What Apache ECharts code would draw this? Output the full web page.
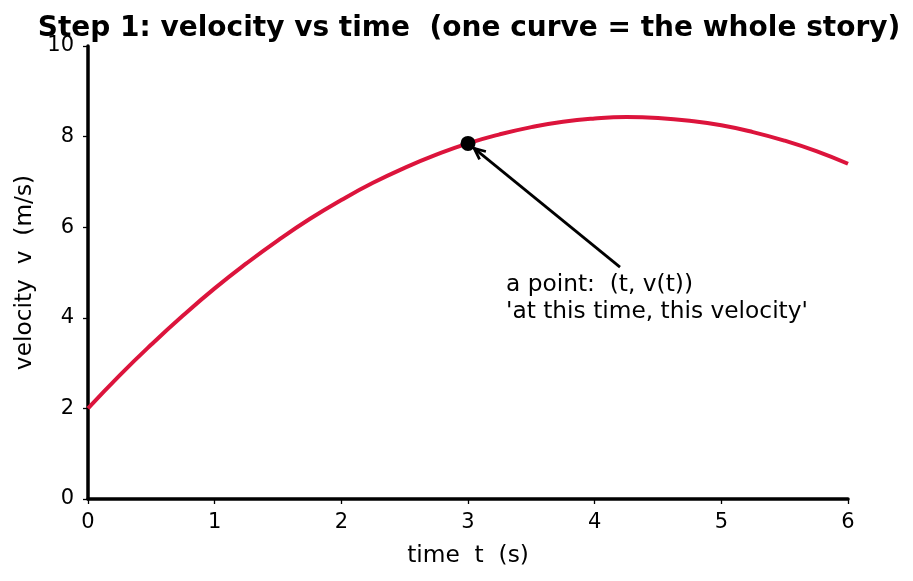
<!DOCTYPE html>
<html>
<head>
<meta charset="utf-8">
<script src="https://cdn.jsdelivr.net/npm/echarts@6/dist/echarts.min.js"></script>
<style>
  html, body { margin: 0; padding: 0; background: #fff; }
  #chart { width: 913px; height: 581px; }
</style>
</head>
<body>
<div id="chart"></div>
<script>
    'use strict';

    // time samples (s) and velocity (m/s)
    var times = [0, 0.25, 0.5, 0.75, 1, 1.25, 1.5, 1.75, 2, 2.25, 2.5, 2.75, 3,
        3.25, 3.5, 3.75, 4, 4.25, 4.5, 4.75, 5, 5.25, 5.5, 5.75, 6];
    var velocities = [2, 2.73, 3.41, 4.05, 4.65, 5.2, 5.71, 6.18, 6.6, 6.98, 7.31, 7.6, 7.85,
        8.05, 8.21, 8.33, 8.4, 8.43, 8.41, 8.35, 8.25, 8.1, 7.91, 7.68, 7.4];

    var markedPoint = [3, 7.85];
    var arrowTail = [4.2, 5.12];
    var notePos = [3.3, 3.84];
    var noteLines = ['a point:  (t, v(t))', '\'at this time, this velocity\''];

    var font = 'DejaVu Sans';

    var chart = echarts.init(document.getElementById('chart'));

    var axisCommon = {
        axisLine: { show: true, onZero: false, lineStyle: { color: '#000', width: 3.5 } },
        axisTick: { show: true, inside: false, length: 5, lineStyle: { color: '#000', width: 1.3 } },
        axisLabel: { color: '#000', fontFamily: font, fontSize: 21, margin: 14 },
        splitLine: { show: false },
        nameTextStyle: { color: '#000', fontFamily: font, fontSize: 23.3 }
    };

    // arrow from the note to the point, open head like "->"
    function renderArrow(params, api) {
        var tail = api.coord(arrowTail);
        var tip = api.coord(markedPoint);
        var dx = tip[0] - tail[0];
        var dy = tip[1] - tail[1];
        var len = Math.sqrt(dx * dx + dy * dy);
        var ux = dx / len, uy = dy / len;
        var shrink = 8;
        var head = [tip[0] - ux * shrink, tip[1] - uy * shrink];
        var hl = 11, hw = 5;
        var bx = head[0] - ux * hl, by = head[1] - uy * hl;
        var left = [bx - uy * hw, by + ux * hw];
        var right = [bx + uy * hw, by - ux * hw];
        var style = { stroke: '#000', lineWidth: 2.8, fill: null };
        return {
            type: 'group',
            children: [
                { type: 'line', shape: { x1: tail[0], y1: tail[1], x2: head[0], y2: head[1] }, style: style },
                { type: 'polyline', shape: { points: [left, head, right] }, style: style }
            ]
        };
    }

    var option = {
        animation: false,
        backgroundColor: '#fff',
        title: {
            text: 'Step 1: velocity vs time  (one curve = the whole story)',
            left: 464,
            textAlign: 'center',
            top: 10,
            textStyle: { fontFamily: font, fontSize: 28, fontWeight: 'bold', color: '#000' }
        },
        grid: { left: 88, right: 65, top: 46, bottom: 82 },
        xAxis: Object.assign({}, axisCommon, {
            type: 'value',
            min: 0,
            max: 6,
            interval: 1,
            name: 'time  t  (s)',
            nameLocation: 'middle',
            nameGap: 45,
            axisLabel: Object.assign({}, axisCommon.axisLabel, { margin: 13 })
        }),
        yAxis: Object.assign({}, axisCommon, {
            type: 'value',
            min: 0,
            max: 10,
            interval: 2,
            name: 'velocity  v  (m/s)',
            nameLocation: 'middle',
            nameGap: 51
        }),
        series: [
            {
                type: 'line',
                data: times.map(function(t, i) { return [t, velocities[i]]; }),
                smooth: true,
                showSymbol: false,
                lineStyle: { color: '#dc143c', width: 4 },
                z: 2
            },
            {
                type: 'scatter',
                data: [markedPoint],
                symbol: 'circle',
                symbolSize: 15,
                itemStyle: { color: '#000', opacity: 1 },
                z: 4
            },
            {
                type: 'custom',
                renderItem: renderArrow,
                data: [[arrowTail[0], arrowTail[1]]],
                z: 3
            },
            {
                type: 'scatter',
                data: [notePos],
                symbolSize: 0,
                itemStyle: { opacity: 1 },
                label: {
                    show: true,
                    position: 'inside',
                    formatter: noteLines.join('\n'),
                    align: 'left',
                    verticalAlign: 'bottom',
                    fontFamily: font,
                    fontSize: 23.3,
                    lineHeight: 27,
                    color: '#000'
                },
                z: 5
            }
        ]
    };

    chart.setOption(option);
</script>
</body>
</html>
